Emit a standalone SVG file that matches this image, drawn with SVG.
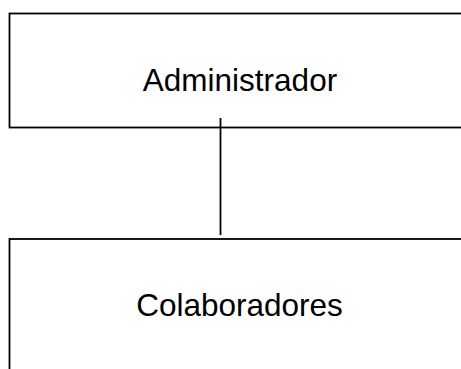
<svg xmlns="http://www.w3.org/2000/svg" width="461" height="369" viewBox="0 0 461 369">
<style>
.box{fill:#fff;stroke:#000;stroke-width:1.8}
.lbl{font-family:"Liberation Sans",Arial,sans-serif;font-size:31.5px;fill:#000;text-anchor:middle}
.conn{stroke:#000;stroke-width:1.8;fill:none}
</style>
<rect width="461" height="369" fill="#fff"/>
<g id="administrador">
<rect class="box" x="9.5" y="13.5" width="462" height="114"/>
<text class="lbl" x="240" y="90.5">Administrador</text>
</g>
<g id="colaboradores">
<rect class="box" x="9.5" y="239" width="462" height="200"/>
<text class="lbl" x="239.5" y="315.5">Colaboradores</text>
</g>
<g id="connectors">
<line class="conn" x1="220.5" y1="118" x2="220.5" y2="235"/>
</g>
</svg>
